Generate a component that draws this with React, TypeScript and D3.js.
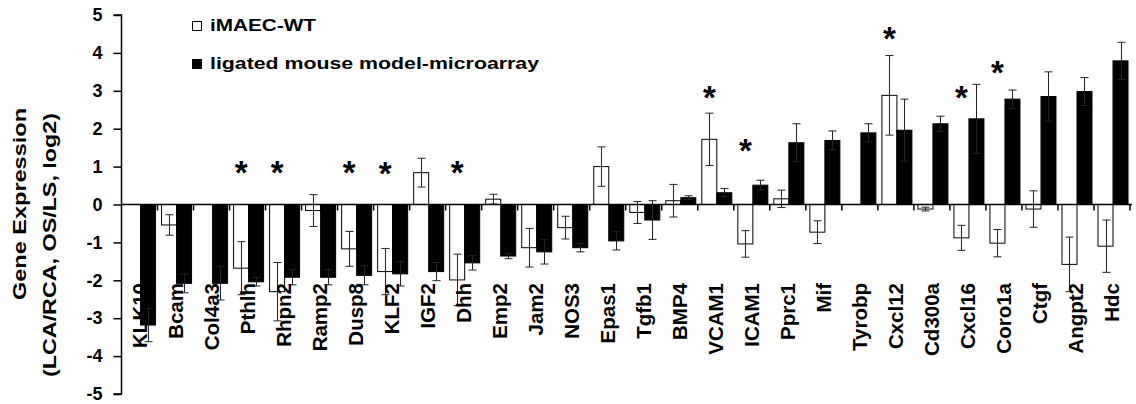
import React, { useEffect, useRef } from "react";
import * as d3 from "d3";

const genes = [
  "KLK10", "Bcam", "Col4a3", "Pthlh", "Rhpn2", "Ramp2", "Dusp8", "KLF2", "IGF2", "Dhh",
  "Emp2", "Jam2", "NOS3", "Epas1", "Tgfb1", "BMP4", "VCAM1", "ICAM1", "Pprc1", "Mif",
  "Tyrobp", "Cxcl12", "Cd300a", "Cxcl16", "Coro1a", "Ctgf", "Angpt2", "Hdc",
];

// iMAEC-WT (null = no bar)
const wtValues: (number | null)[] = [
  null, -0.54, null, -1.68, -2.3, -0.16, -1.17, -1.77, 0.84, -1.99,
  0.14, -1.14, -0.61, 1.0, -0.21, 0.1, 1.72, -1.04, 0.15, -0.73,
  null, 2.88, -0.12, -0.88, -1.02, -0.12, -1.58, -1.1,
];
const wtErrors: (number | null)[] = [
  null, 0.27, null, 0.7, 0.77, 0.42, 0.46, 0.61, 0.38, 0.68,
  0.13, 0.51, 0.3, 0.52, 0.29, 0.43, 0.69, 0.35, 0.23, 0.3,
  null, 1.05, 0.05, 0.33, 0.36, 0.48, 0.72, 0.69,
];

// ligated mouse model-microarray
const ligValues = [
  -3.18, -2.08, -2.08, -2.04, -1.92, -1.92, -1.87, -1.83, -1.77, -1.54,
  -1.36, -1.25, -1.14, -0.96, -0.41, 0.18, 0.31, 0.51, 1.63, 1.69,
  1.89, 1.96, 2.13, 2.26, 2.78, 2.85, 2.98, 3.79,
];
const ligErrors = [
  0.44, 0.25, 0.44, 0.11, 0.2, 0.2, 0.25, 0.32, 0.24, 0.19,
  0.07, 0.32, 0.11, 0.24, 0.51, 0.05, 0.11, 0.13, 0.5, 0.25,
  0.24, 0.82, 0.2, 0.91, 0.24, 0.65, 0.37, 0.49,
];

// significance marks: gene and height of the star
const starGenes = ["Pthlh", "Rhpn2", "Dusp8", "KLF2", "Dhh", "VCAM1", "ICAM1", "Cxcl12", "Cxcl16", "Coro1a"];
const starLevels = [1.04, 1.04, 1.04, 0.99, 1.04, 3.02, 1.62, 4.56, 3.02, 3.68];

const yTicks = [-5, -4, -3, -2, -1, 0, 1, 2, 3, 4, 5];
const seriesNames = ["iMAEC-WT", "ligated mouse model-microarray"];

const FONT = "'Liberation Sans', Arial, sans-serif";

const App = () => {
  const svgRef = useRef<SVGSVGElement | null>(null);

  useEffect(() => {
    if (!svgRef.current) return;
    const svg = d3.select(svgRef.current);
    svg.selectAll("*").remove();

    const left = 121.5;
    const right = 1130;
    const y = d3.scaleLinear().domain([-5, 5]).range([394, 15]);
    const x = d3.scaleBand<string>().domain(genes).range([left, right]).padding(0);
    const sub = d3
      .scaleBand<string>()
      .domain(["wt", "lig"])
      .range([0, x.bandwidth()])
      .paddingInner(0)
      .paddingOuter(0.2)
      .align(0.67);

    const g = svg.append("g").attr("font-family", FONT).attr("font-weight", "bold");

    const rows = genes.map((gene, i) => ({
      gene,
      wt: wtValues[i],
      wtErr: wtErrors[i],
      lig: ligValues[i],
      ligErr: ligErrors[i],
    }));

    // white bars
    g.selectAll("rect.wt")
      .data(rows.filter((d) => d.wt !== null))
      .enter()
      .append("rect")
      .attr("x", (d) => (x(d.gene) as number) + (sub("wt") as number))
      .attr("width", sub.bandwidth())
      .attr("y", (d) => y(Math.max(0, d.wt as number)))
      .attr("height", (d) => Math.abs(y(d.wt as number) - y(0)))
      .attr("fill", "#fff")
      .attr("stroke", "#000")
      .attr("stroke-width", 1);

    // black bars
    g.selectAll("rect.lig")
      .data(rows)
      .enter()
      .append("rect")
      .attr("x", (d) => (x(d.gene) as number) + (sub("lig") as number))
      .attr("width", sub.bandwidth())
      .attr("y", (d) => y(Math.max(0, d.lig)))
      .attr("height", (d) => Math.abs(y(d.lig) - y(0)))
      .attr("fill", "#000")
      .attr("stroke", "#000")
      .attr("stroke-width", 1);

    // error bars
    const errs: { cx: number; v: number; e: number }[] = [];
    rows.forEach((d) => {
      const bx = x(d.gene) as number;
      if (d.wt !== null && d.wtErr !== null)
        errs.push({ cx: bx + (sub("wt") as number) + sub.bandwidth() / 2, v: d.wt, e: d.wtErr });
      errs.push({ cx: bx + (sub("lig") as number) + sub.bandwidth() / 2, v: d.lig, e: d.ligErr });
    });
    const eg = g.append("g").attr("stroke", "#222").attr("stroke-width", 1);
    errs.forEach((d) => {
      const x0 = Math.round(d.cx) + 0.5;
      eg.append("line").attr("x1", x0).attr("x2", x0).attr("y1", y(d.v + d.e)).attr("y2", y(d.v - d.e));
      [d.v + d.e, d.v - d.e].forEach((v) => {
        eg.append("line")
          .attr("x1", x0 - 4)
          .attr("x2", x0 + 4)
          .attr("y1", y(v))
          .attr("y2", y(v));
      });
    });

    // x axis line with category ticks
    const y0 = y(0);
    g.append("line")
      .attr("x1", left)
      .attr("x2", right + 2)
      .attr("y1", y0)
      .attr("y2", y0)
      .attr("stroke", "#000")
      .attr("stroke-width", 1.5);
    const bounds = genes.map((d) => x(d) as number).concat([right]);
    g.selectAll("line.xtick")
      .data(bounds.slice(1))
      .enter()
      .append("line")
      .attr("x1", (d) => d)
      .attr("x2", (d) => d)
      .attr("y1", y0)
      .attr("y2", y0 + 6)
      .attr("stroke", "#000")
      .attr("stroke-width", 1.5);

    // category labels
    g.selectAll("text.xlab")
      .data(genes)
      .enter()
      .append("text")
      .attr("transform", (d) => `translate(${(x(d) as number) + x.bandwidth() / 2 + 0.5},283) rotate(-90)`)
      .attr("text-anchor", "end")
      .attr("dy", "0.33em")
      .attr("font-size", 20.5)
      .text((d) => d);

    // y axis
    const yAxis = g
      .append("g")
      .attr("transform", `translate(${left},0)`)
      .call(
        d3
          .axisLeft(y)
          .tickValues(yTicks)
          .tickSize(8)
          .tickPadding(11)
          .tickFormat((d) => String(d))
      );
    yAxis.select(".domain").attr("stroke-width", 1.5).attr("d", `M-8,${y(5)}H0V${y(-5)}H-8`);
    yAxis.selectAll(".tick line").attr("stroke-width", 1.5);
    yAxis
      .selectAll(".tick text")
      .attr("font-size", 18)
      .attr("font-family", FONT)
      .attr("font-weight", "bold")
      .attr("fill", "#000");

    // y title
    g.append("text")
      .attr("transform", "translate(26,204) rotate(-90)")
      .attr("text-anchor", "middle")
      .attr("font-size", 19)
      .attr("textLength", 192)
      .attr("lengthAdjust", "spacingAndGlyphs")
      .text("Gene Expression");
    g.append("text")
      .attr("transform", "translate(56,245) rotate(-90)")
      .attr("text-anchor", "middle")
      .attr("font-size", 19)
      .attr("textLength", 264)
      .attr("lengthAdjust", "spacingAndGlyphs")
      .text("(LCA/RCA, OS/LS, log2)");

    // stars
    g.selectAll("text.star")
      .data(starGenes.map((gene, i) => ({ gene, lv: starLevels[i] })))
      .enter()
      .append("text")
      .attr("x", (d) => (x(d.gene) as number) + (sub("wt") as number) + sub.bandwidth() / 2)
      .attr("y", (d) => y(d.lv) + 0.56 * 33)
      .attr("text-anchor", "middle")
      .attr("font-size", 33)
      .text("*");

    // legend
    const legend = g.append("g");
    const legendY = [31, 69];
    const legendLen = [106, 329];
    seriesNames.forEach((name, i) => {
      legend
        .append("rect")
        .attr("x", 192.5)
        .attr("y", legendY[i] - 9.5)
        .attr("width", 9)
        .attr("height", 9)
        .attr("fill", i === 0 ? "#fff" : "#000")
        .attr("stroke", "#000")
        .attr("stroke-width", 1);
      legend
        .append("text")
        .attr("x", 210)
        .attr("y", legendY[i])
        .attr("font-size", 17)
        .attr("textLength", legendLen[i])
        .attr("lengthAdjust", "spacingAndGlyphs")
        .text(name);
    });
  }, []);

  return (
    <div style={{ position: "absolute", left: 0, top: 0, width: 1136, height: 404, background: "#fff" }}>
      <svg ref={svgRef} width={1136} height={404} style={{ display: "block" }} />
    </div>
  );
};

export default App;
